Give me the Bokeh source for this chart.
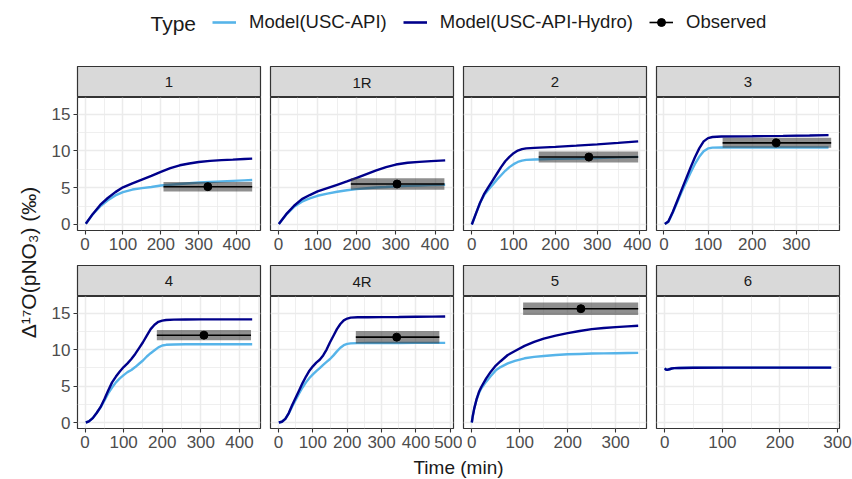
import math
from bokeh.plotting import figure
from bokeh.layouts import row, column
from bokeh.models import Range1d, FixedTicker, Label, Legend, LegendItem, ColumnDataSource
from bokeh.embed import file_html
from bokeh.resources import INLINE
from bokeh.core.properties import value

# ---------------- data ----------------
panel_labels = ["1", "1R", "2", "3", "4", "4R", "5", "6"]

t_1 = [2, 20, 40, 60, 80, 100, 125, 150, 175, 200, 225, 250, 275, 300, 330, 360, 390, 420, 441]
hydro_1 = [0.1, 1.4, 2.65, 3.6, 4.4, 5.05, 5.6, 6.1, 6.6, 7.15, 7.65, 8.05, 8.3, 8.5, 8.65, 8.75, 8.82, 8.9, 8.95]
api_1 = [0.1, 1.35, 2.45, 3.3, 3.95, 4.4, 4.75, 4.95, 5.1, 5.3, 5.4, 5.5, 5.6, 5.7, 5.78, 5.86, 5.93, 6.0, 6.05]

t_1r = [1, 20, 40, 60, 80, 100, 125, 150, 175, 200, 225, 250, 275, 300, 330, 360, 390, 426]
hydro_1r = [0.05, 1.4, 2.55, 3.45, 4.0, 4.5, 4.95, 5.4, 5.85, 6.35, 6.85, 7.35, 7.8, 8.15, 8.4, 8.52, 8.62, 8.72]
api_1r = [0.05, 1.35, 2.4, 3.1, 3.55, 3.9, 4.2, 4.45, 4.65, 4.8, 4.93, 5.03, 5.1, 5.18, 5.25, 5.3, 5.35, 5.4]

t_2 = [0, 10, 20, 30, 40, 50, 60, 70, 80, 90, 100, 110, 120, 130, 150, 200, 250, 300, 350, 398]
hydro_2 = [0, 1.5, 3.0, 4.2, 5.1, 6.0, 6.9, 7.8, 8.6, 9.2, 9.7, 10.05, 10.25, 10.35, 10.42, 10.55, 10.72, 10.9, 11.1, 11.3]
api_2 = [0, 1.5, 2.95, 4.05, 4.75, 5.4, 6.1, 6.7, 7.3, 7.8, 8.2, 8.5, 8.68, 8.78, 8.84, 8.92, 8.98, 9.05, 9.12, 9.2]

t_3 = [2, 10, 20, 30, 40, 50, 60, 70, 80, 90, 100, 110, 130, 200, 270, 330, 373]
hydro_3 = [0.05, 0.4, 1.7, 3.2, 4.7, 6.2, 7.7, 9.1, 10.35, 11.3, 11.75, 11.9, 11.97, 12.0, 12.05, 12.1, 12.15]
api_3 = [0.05, 0.35, 1.6, 3.0, 4.4, 5.7, 7.0, 8.2, 9.2, 9.95, 10.35, 10.45, 10.47, 10.47, 10.47, 10.47, 10.47]

t_4 = [2, 10, 20, 30, 40, 50, 60, 70, 80, 90, 100, 110, 120, 130, 140, 150, 160, 170, 180, 190, 200, 210, 230, 260, 300, 350, 400, 433]
hydro_4 = [0.0, 0.15, 0.6, 1.3, 2.1, 3.2, 4.4, 5.5, 6.3, 7.0, 7.6, 8.1, 8.7, 9.4, 10.2, 11.0, 11.9, 12.8, 13.4, 13.8, 13.97, 14.05, 14.1, 14.12, 14.13, 14.13, 14.13, 14.13]
api_4 = [0.0, 0.15, 0.6, 1.3, 2.05, 3.0, 4.0, 4.8, 5.5, 6.05, 6.5, 6.9, 7.2, 7.6, 8.05, 8.5, 9.05, 9.5, 9.9, 10.3, 10.55, 10.65, 10.7, 10.72, 10.73, 10.73, 10.73, 10.73]

t_4r = [1, 10, 20, 30, 40, 50, 60, 70, 80, 90, 100, 110, 120, 130, 140, 150, 160, 170, 180, 190, 200, 210, 230, 260, 300, 350, 400, 450, 485]
hydro_4r = [0.0, 0.1, 0.5, 1.3, 2.4, 3.4, 4.4, 5.4, 6.3, 7.1, 7.7, 8.2, 8.6, 9.2, 10.0, 11.0, 11.9, 12.8, 13.5, 14.0, 14.25, 14.38, 14.42, 14.43, 14.44, 14.46, 14.5, 14.52, 14.54]
api_4r = [0.0, 0.1, 0.5, 1.25, 2.2, 3.1, 4.0, 4.8, 5.5, 6.1, 6.6, 7.05, 7.45, 7.9, 8.3, 8.7, 9.2, 9.75, 10.25, 10.6, 10.78, 10.85, 10.88, 10.9, 10.9, 10.9, 10.91, 10.92, 10.92]

t_5 = [0, 2, 5, 10, 15, 20, 30, 40, 50, 60, 75, 90, 110, 130, 150, 175, 200, 225, 250, 275, 300, 325, 347]
hydro_5 = [0, 0.9, 1.9, 3.2, 4.2, 4.9, 6.05, 7.0, 7.8, 8.4, 9.25, 9.8, 10.5, 11.05, 11.5, 11.9, 12.25, 12.55, 12.8, 12.95, 13.07, 13.18, 13.26]
api_5 = [0, 0.9, 1.9, 3.15, 4.05, 4.7, 5.6, 6.4, 7.15, 7.6, 8.1, 8.45, 8.8, 9.0, 9.12, 9.25, 9.35, 9.4, 9.45, 9.48, 9.5, 9.52, 9.54]

t_6 = [0, 2, 4, 8, 12, 16, 25, 50, 100, 150, 200, 250, 289]
hydro_6 = [7.43, 7.25, 7.2, 7.3, 7.4, 7.45, 7.48, 7.5, 7.52, 7.52, 7.52, 7.52, 7.52]
api_6 = [7.43, 7.25, 7.2, 7.3, 7.4, 7.45, 7.48, 7.5, 7.52, 7.52, 7.52, 7.52, 7.52]

obs_panel = ["1", "1R", "2", "3", "4", "4R", "5"]
obs_time = [324, 303, 280, 254.5, 308, 344, 227.5]
obs_value = [5.14, 5.5, 9.17, 11.1, 11.97, 11.7, 15.6]
obs_sd = [0.64, 0.77, 0.75, 0.68, 0.71, 0.86, 0.85]
obs_start = [207, 185, 160, 133, 186, 225, 107]
obs_end = [441, 424, 398, 379, 430, 468, 347]

ticks_400 = [0, 100, 200, 300, 400]
ticks_300 = [0, 100, 200, 300]
ticks_500 = [0, 100, 200, 300, 400, 500]
y_ticks = [0, 5, 10, 15]
y_minor = [2.5, 7.5, 12.5]

series = {
    "1": (t_1, api_1, hydro_1, ticks_400),
    "1R": (t_1r, api_1r, hydro_1r, ticks_400),
    "2": (t_2, api_2, hydro_2, ticks_400),
    "3": (t_3, api_3, hydro_3, ticks_300),
    "4": (t_4, api_4, hydro_4, ticks_400),
    "4R": (t_4r, api_4r, hydro_4r, ticks_500),
    "5": (t_5, api_5, hydro_5, ticks_300),
    "6": (t_6, api_6, hydro_6, ticks_300),
}

# ---------------- styles ----------------
FONT = "Liberation Sans"
LIGHT = "#56B4E9"
DARK = "#00008B"
GRID = "#EBEBEB"
BORDER = "#333333"
TICKTXT = "#4D4D4D"

left_b = [29, 5, 1, 5]
right_b = [5, 9, 5, 13]
FRAME_W = 183

# shared y range (5% expansion, like ggplot)
y_all = []
for k in panel_labels:
    y_all += series[k][1] + series[k][2]
y_all += [v - s for v, s in zip(obs_value, obs_sd)] + [v + s for v, s in zip(obs_value, obs_sd)]
ylo, yhi = min(y_all), max(y_all)
ypad = 0.05 * (yhi - ylo)
Y0, Y1 = ylo - ypad, yhi + ypad


def make_strip(label, col):
    w = left_b[col] + FRAME_W + right_b[col]
    s = figure(width=w, height=31, x_range=Range1d(0, 1), y_range=Range1d(0, 1),
               x_axis_location=None, y_axis_location=None, toolbar_location=None,
               output_backend="svg", min_border_left=left_b[col], min_border_right=right_b[col],
               min_border_top=0, min_border_bottom=0)
    s.background_fill_color = "#D9D9D9"
    s.border_fill_color = "white"
    s.outline_line_color = BORDER
    s.outline_line_width = 1.2
    s.grid.visible = False
    s.text(x=[0.5], y=[0.5], text=[label], text_align="center", text_baseline="middle",
           text_font=value(FONT), text_font_size=value("15px"), text_color="#1A1A1A")
    return s


def make_panel(label, col, rowi):
    t, api, hydro, xt = series[label]
    idx = [i for i, pl in enumerate(obs_panel) if pl == label]
    xs = list(t) + [obs_start[i] for i in idx] + [obs_end[i] for i in idx]
    xlo, xhi = min(xs), max(xs)
    xpad = 0.05 * (xhi - xlo)
    x0, x1 = xlo - xpad, xhi + xpad
    w = left_b[col] + FRAME_W + right_b[col]
    fh = 133 if rowi == 0 else 132
    bb = 35 if rowi == 0 else 27
    p = figure(width=w, height=fh + bb, x_range=Range1d(x0, x1), y_range=Range1d(Y0, Y1),
               toolbar_location=None, output_backend="svg",
               min_border_left=left_b[col], min_border_right=right_b[col],
               min_border_top=0, min_border_bottom=bb)
    p.background_fill_color = "white"
    p.border_fill_color = "white"
    p.outline_line_color = BORDER
    p.outline_line_width = 1.2

    xminor = [v + 50 for v in [xt[0] - 100] + xt if x0 < v + 50 < x1]
    xtick = FixedTicker(ticks=xt, minor_ticks=xminor)
    ytick = FixedTicker(ticks=y_ticks, minor_ticks=y_minor)
    p.xaxis.ticker = xtick
    p.yaxis.ticker = ytick
    p.xgrid.ticker = xtick
    p.ygrid.ticker = ytick
    for g in (p.xgrid, p.ygrid):
        g.grid_line_color = GRID
        g.grid_line_width = 1.5
        g.minor_grid_line_color = GRID
        g.minor_grid_line_width = 0.8

    for ax in (p.xaxis, p.yaxis):
        ax.axis_line_color = None
        ax.major_tick_line_color = BORDER
        ax.major_tick_line_width = 1.1
        ax.major_tick_in = 0
        ax.major_tick_out = 4
        ax.minor_tick_line_color = None
        ax.major_label_text_font = FONT
        ax.major_label_text_font_size = "17px"
        ax.major_label_text_color = TICKTXT
        ax.major_label_standoff = 3
    if col != 0:
        p.yaxis.visible = False

    p.line(t, api, line_color=LIGHT, line_width=2.4)
    p.line(t, hydro, line_color=DARK, line_width=2.4)

    if idx:
        src = ColumnDataSource(dict(
            l=[obs_start[i] for i in idx], r=[obs_end[i] for i in idx],
            b=[obs_value[i] - obs_sd[i] for i in idx], t=[obs_value[i] + obs_sd[i] for i in idx],
            x=[obs_time[i] for i in idx], y=[obs_value[i] for i in idx]))
        p.quad(left="l", right="r", bottom="b", top="t", source=src,
               fill_color="#333333", fill_alpha=0.55, line_color=None)
        p.segment(x0="l", y0="y", x1="r", y1="y", source=src, line_color="black", line_width=1.6)
        p.scatter(x="x", y="y", source=src, size=8, color="black")
    return p


rows = []
for rowi in range(2):
    cols = []
    for col in range(4):
        label = panel_labels[rowi * 4 + col]
        cols.append(column(make_strip(label, col), make_panel(label, col, rowi)))
    rows.append(row(*cols))
grid = column(*rows)

YT_W = 48
TOTAL_W = YT_W + sum(left_b) + 4 * FRAME_W + sum(right_b)

# legend (key renderers hold off-screen points so only their legend keys show)
lf = figure(width=TOTAL_W, height=66, x_range=Range1d(0, 1), y_range=Range1d(0, 1),
            x_axis_location=None, y_axis_location=None, toolbar_location=None,
            output_backend="svg", min_border=0)
lf.outline_line_color = None
lf.grid.visible = False
r1 = lf.line(x=[5, 6], y=[5, 5], line_color=LIGHT, line_width=2.6)
r2 = lf.line(x=[5, 6], y=[5, 5], line_color=DARK, line_width=2.6)
r3a = lf.segment(x0=[5], y0=[5], x1=[6], y1=[5], line_color="black", line_width=1.6)
r3b = lf.scatter(x=[5], y=[5], size=7, color="black")
legend = Legend(items=[LegendItem(label="Model(USC-API)", renderers=[r1]),
                       LegendItem(label="Model(USC-API-Hydro)", renderers=[r2]),
                       LegendItem(label="Observed", renderers=[r3a, r3b])],
                orientation="horizontal", location=(212, 33),
                label_text_font=FONT, label_text_font_size="18.5px", label_text_color="#1A1A1A",
                glyph_width=24, glyph_height=20, label_height=20, label_standoff=13, spacing=16,
                padding=0, margin=0, border_line_color=None, background_fill_alpha=0)
lf.add_layout(legend)
lf.add_layout(Label(x=150, y=43, x_units="screen", y_units="screen", text="Type",
                    text_font=FONT, text_font_size="21px", text_color="#1A1A1A",
                    text_baseline="middle", text_align="left"))

# y title
yf = figure(width=YT_W, height=389, x_range=Range1d(0, 1), y_range=Range1d(0, 1),
            x_axis_location=None, y_axis_location=None, toolbar_location=None,
            output_backend="svg", min_border=0)
yf.outline_line_color = None
yf.grid.visible = False
yf.add_layout(Label(x=28, y=193, x_units="screen", y_units="screen",
                    text="Δ¹⁷O(pNO₃) (‰)", angle=math.pi / 2,
                    text_font=FONT, text_font_size="21px", text_color="#1A1A1A",
                    text_align="center", text_baseline="middle"))

# x title
xf = figure(width=TOTAL_W, height=24, x_range=Range1d(0, 1), y_range=Range1d(0, 1),
            x_axis_location=None, y_axis_location=None, toolbar_location=None,
            output_backend="svg", min_border=0)
xf.outline_line_color = None
xf.grid.visible = False
xf.add_layout(Label(x=458, y=12, x_units="screen", y_units="screen", text="Time (min)",
                    text_font=FONT, text_font_size="19px", text_color="#1A1A1A",
                    text_align="center", text_baseline="middle"))

layout = column(lf, row(yf, grid), xf)

open("out.html", "w").write(file_html(layout, INLINE))
